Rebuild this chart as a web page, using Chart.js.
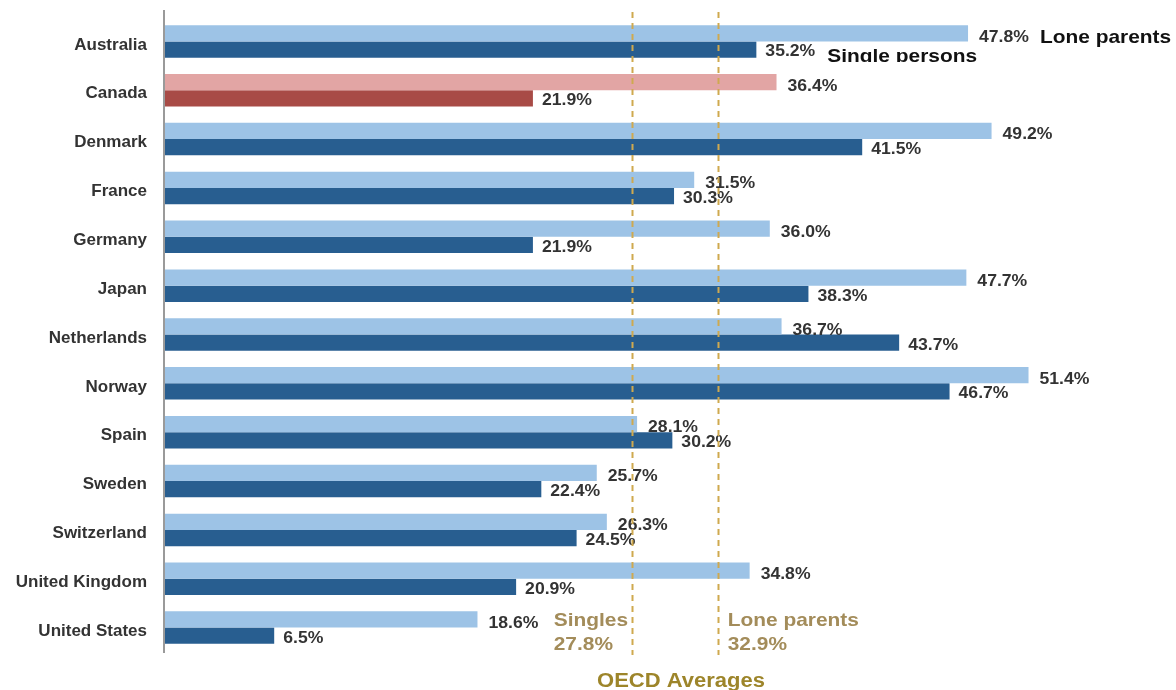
<!DOCTYPE html>
<html>
<head>
<meta charset="utf-8">
<script src="https://cdn.jsdelivr.net/npm/chart.js@4.4.1/dist/chart.umd.min.js"></script>
<style>
  html, body { margin: 0; padding: 0; background: #ffffff; }
  #wrap { width: 1176px; height: 690px; position: relative; }
</style>
</head>
<body>
<div id="wrap"><canvas id="c" width="1176" height="690"></canvas></div>
<script>
const categories = ['Australia', 'Canada', 'Denmark', 'France', 'Germany', 'Japan', 'Netherlands', 'Norway', 'Spain', 'Sweden', 'Switzerland', 'United Kingdom', 'United States'];
const loneParents = [47.8, 36.4, 49.2, 31.5, 36.0, 47.7, 36.7, 51.4, 28.1, 25.7, 26.3, 34.8, 18.6];
const singlePersons = [35.2, 21.9, 41.5, 30.3, 21.9, 38.3, 43.7, 46.7, 30.2, 22.4, 24.5, 20.9, 6.5];
const seriesNames = ['Lone parents', 'Single persons'];
const averageLabels = ['Singles', 'Lone parents'];
const averageValues = [27.8, 32.9];
const averagesTitle = 'OECD Averages';
const highlightCategory = 'Canada';

const FONT = "'Liberation Sans', Arial, sans-serif";
const STRETCH = 1.1;

const colorsFor = (base, hi) => categories.map(c => c === highlightCategory ? hi : base);

function stretchText(ctx, text, x, y, sx) {
  ctx.save();
  ctx.translate(x, y);
  ctx.scale(sx, 1);
  ctx.fillText(text, 0, 0);
  ctx.restore();
}
function stretchWidth(ctx, text, sx) { return ctx.measureText(text).width * sx; }

const overlay = {
  id: 'overlay',
  afterDatasetsDraw(chart) {
    const ctx = chart.ctx;
    const xs = chart.scales.x;
    const x0 = xs.getPixelForValue(0);
    // axis line
    ctx.save();
    ctx.strokeStyle = '#9a9a9a';
    ctx.lineWidth = 2;
    ctx.beginPath();
    ctx.moveTo(x0 - 1, 10);
    ctx.lineTo(x0 - 1, 653);
    ctx.stroke();
    ctx.restore();

    // value labels
    ctx.save();
    ctx.font = 'bold 16px ' + FONT;
    ctx.fillStyle = '#333333';
    ctx.textAlign = 'left';
    ctx.textBaseline = 'middle';
    const labelEnds = [[], []];
    chart.data.datasets.forEach((ds, di) => {
      const meta = chart.getDatasetMeta(di);
      meta.data.forEach((bar, i) => {
        const t = ds.data[i].toFixed(1) + '%';
        const lx = bar.x + (di === 0 ? 11 : 9);
        stretchText(ctx, t, lx, bar.y + (di === 0 ? 4 : 2.5), STRETCH);
        labelEnds[di][i] = lx + stretchWidth(ctx, t, STRETCH);
      });
    });
    ctx.restore();

    // series name labels next to first category
    ctx.save();
    ctx.font = 'bold 19px ' + FONT;
    ctx.fillStyle = '#111111';
    ctx.textAlign = 'left';
    ctx.textBaseline = 'alphabetic';
    const b0 = chart.getDatasetMeta(0).data[0];
    const b1 = chart.getDatasetMeta(1).data[0];
    stretchText(ctx, seriesNames[0], labelEnds[0][0] + 11, b0.y + 10, STRETCH);
    ctx.beginPath();
    ctx.rect(0, 0, chart.width, b1.y + 12.5);
    ctx.clip();
    stretchText(ctx, seriesNames[1], labelEnds[1][0] + 12, b1.y + 12, STRETCH);
    ctx.restore();

    // OECD average dashed lines
    ctx.save();
    ctx.strokeStyle = '#cfa94f';
    ctx.lineWidth = 2;
    ctx.setLineDash([6, 5]);
    averageValues.forEach(v => {
      const px = Math.round(xs.getPixelForValue(v)) + 0.5;
      ctx.beginPath();
      ctx.moveTo(px, 12);
      ctx.lineTo(px, 655);
      ctx.stroke();
    });
    ctx.restore();

    // OECD annotations
    ctx.save();
    ctx.font = 'bold 19px ' + FONT;
    ctx.fillStyle = '#a38c5a';
    ctx.textAlign = 'left';
    ctx.textBaseline = 'alphabetic';
    const p1 = xs.getPixelForValue(averageValues[0]);
    const p2 = xs.getPixelForValue(averageValues[1]);
    const w1 = stretchWidth(ctx, averageLabels[0], STRETCH);
    stretchText(ctx, averageLabels[0], p1 - w1 - 4, 626, STRETCH);
    stretchText(ctx, averageValues[0].toFixed(1) + '%', p1 - w1 - 4, 650, STRETCH);
    stretchText(ctx, averageLabels[1], p2 + 10, 626, STRETCH);
    stretchText(ctx, averageValues[1].toFixed(1) + '%', p2 + 10, 650, STRETCH);
    ctx.font = 'bold 20px ' + FONT;
    ctx.fillStyle = '#9d852a';
    stretchText(ctx, averagesTitle, p1 - 35, 687, STRETCH);
    ctx.restore();
  }
};

new Chart(document.getElementById('c'), {
  type: 'bar',
  data: {
    labels: categories,
    datasets: [
      { label: seriesNames[0], data: loneParents, backgroundColor: colorsFor('#9dc3e6', '#e2a5a4'), borderWidth: 0 },
      { label: seriesNames[1], data: singlePersons, backgroundColor: colorsFor('#285e90', '#a84b46'), borderWidth: 0 }
    ]
  },
  options: {
    indexAxis: 'y',
    responsive: false,
    animation: false,
    devicePixelRatio: 1,
    categoryPercentage: 0.665,
    barPercentage: 1.0,
    layout: { padding: { top: 17, bottom: 38, left: 0, right: 3 } },
    plugins: { legend: { display: false }, tooltip: { enabled: false } },
    scales: {
      x: { display: false, min: 0, max: 60 },
      y: {
        afterFit: s => { s.width = 165; s.paddingTop = 0; s.paddingBottom = 0; },
        grid: { display: false, drawTicks: false },
        border: { display: false },
        ticks: { color: '#333333', font: { family: FONT, size: 17, weight: 'bold' }, padding: 18, labelOffset: 3.5 }
      }
    }
  },
  plugins: [overlay]
});
</script>
</body>
</html>
